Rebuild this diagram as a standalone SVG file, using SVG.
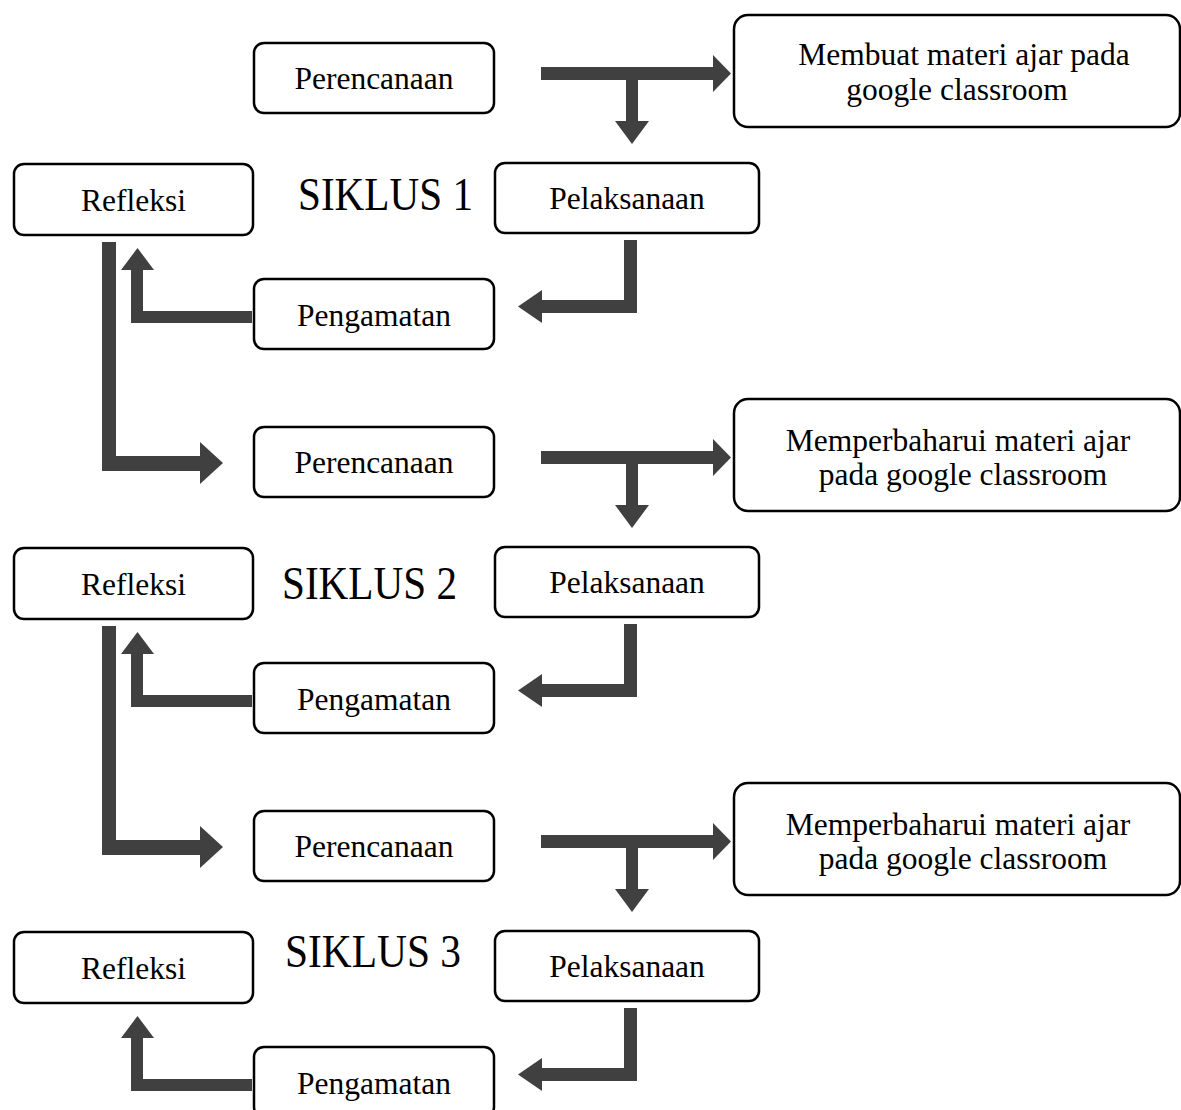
<svg xmlns="http://www.w3.org/2000/svg" width="1181" height="1110" viewBox="0 0 1181 1110">
<style>
.box{fill:#fff;stroke:#000;stroke-width:2.5}
.t{font-family:"Liberation Serif","Times New Roman",serif;font-size:31.5px;fill:#000;text-anchor:middle}
.s{font-family:"Liberation Serif","Times New Roman",serif;font-size:46px;fill:#000}
.a{fill:#404040;stroke:none}
</style>
<rect width="1181" height="1110" fill="#fff"/>
<g id="connectors">
  <!-- cycle 1 -->
  <path class="a" d="M541,67 H713 V80 H541 Z"/>
  <polygon class="a" points="713,55 731,73.5 713,92"/>
  <path class="a" d="M626,80 H638 V121 H626 Z"/>
  <polygon class="a" points="615,121 649,121 632,144"/>
  <path class="a" d="M624,240 H637 V313 H542 V300 H624 Z"/>
  <polygon class="a" points="542,290 542,323 518,306.5"/>
  <path class="a" d="M252,311 V323 H131 V270 H143 V311 Z"/>
  <polygon class="a" points="121,270 154,270 137.5,248"/>
  <path class="a" d="M102,242 H116 V456 H200 V471 H102 Z"/>
  <polygon class="a" points="200,442 223,463 200,484"/>
  <!-- cycle 2 -->
  <path class="a" d="M541,451 H713 V464 H541 Z"/>
  <polygon class="a" points="713,439 731,457.5 713,476"/>
  <path class="a" d="M626,464 H638 V505 H626 Z"/>
  <polygon class="a" points="615,505 649,505 632,528"/>
  <path class="a" d="M624,624 H637 V697 H542 V684 H624 Z"/>
  <polygon class="a" points="542,674 542,707 518,690.5"/>
  <path class="a" d="M252,695 V707 H131 V654 H143 V695 Z"/>
  <polygon class="a" points="121,654 154,654 137.5,632"/>
  <path class="a" d="M102,626 H116 V840 H200 V855 H102 Z"/>
  <polygon class="a" points="200,826 223,847 200,868"/>
  <!-- cycle 3 -->
  <path class="a" d="M541,835 H713 V848 H541 Z"/>
  <polygon class="a" points="713,823 731,841.5 713,860"/>
  <path class="a" d="M626,848 H638 V889 H626 Z"/>
  <polygon class="a" points="615,889 649,889 632,912"/>
  <path class="a" d="M624,1008 H637 V1081 H542 V1068 H624 Z"/>
  <polygon class="a" points="542,1058 542,1091 518,1074.5"/>
  <path class="a" d="M252,1079 V1091 H131 V1038 H143 V1079 Z"/>
  <polygon class="a" points="121,1038 154,1038 137.5,1016"/>
</g>
<!-- Cycle 1 -->
<g id="perencanaan1"><rect class="box" x="254" y="43" width="240" height="70" rx="10"/><text class="t" x="374" y="89">Perencanaan</text></g>
<g id="materi1"><rect class="box" x="734" y="15" width="446" height="112" rx="14"/><text class="t" x="964" y="65">Membuat materi ajar pada</text><text class="t" x="957" y="100">google classroom</text></g>
<g id="refleksi1"><rect class="box" x="14" y="164" width="239" height="71" rx="10"/><text class="t" x="133.5" y="210.5">Refleksi</text></g>
<g id="siklus1"><text class="s" x="298" y="210" textLength="175" lengthAdjust="spacingAndGlyphs">SIKLUS 1</text></g>
<g id="pelaksanaan1"><rect class="box" x="495" y="163" width="264" height="70" rx="10"/><text class="t" x="627" y="209">Pelaksanaan</text></g>
<g id="pengamatan1"><rect class="box" x="254" y="279" width="240" height="70" rx="10"/><text class="t" x="374" y="326">Pengamatan</text></g>
<!-- Cycle 2 -->
<g id="perencanaan2"><rect class="box" x="254" y="427" width="240" height="70" rx="10"/><text class="t" x="374" y="473">Perencanaan</text></g>
<g id="materi2"><rect class="box" x="734" y="399" width="446" height="112" rx="14"/><text class="t" x="958" y="451">Memperbaharui materi ajar</text><text class="t" x="963" y="485">pada google classroom</text></g>
<g id="refleksi2"><rect class="box" x="14" y="548" width="239" height="71" rx="10"/><text class="t" x="133.5" y="594.5">Refleksi</text></g>
<g id="siklus2"><text class="s" x="282" y="599" textLength="175" lengthAdjust="spacingAndGlyphs">SIKLUS 2</text></g>
<g id="pelaksanaan2"><rect class="box" x="495" y="547" width="264" height="70" rx="10"/><text class="t" x="627" y="593">Pelaksanaan</text></g>
<g id="pengamatan2"><rect class="box" x="254" y="663" width="240" height="70" rx="10"/><text class="t" x="374" y="710">Pengamatan</text></g>
<!-- Cycle 3 -->
<g id="perencanaan3"><rect class="box" x="254" y="811" width="240" height="70" rx="10"/><text class="t" x="374" y="857">Perencanaan</text></g>
<g id="materi3"><rect class="box" x="734" y="783" width="446" height="112" rx="14"/><text class="t" x="958" y="835">Memperbaharui materi ajar</text><text class="t" x="963" y="869">pada google classroom</text></g>
<g id="refleksi3"><rect class="box" x="14" y="932" width="239" height="71" rx="10"/><text class="t" x="133.5" y="978.5">Refleksi</text></g>
<g id="siklus3"><text class="s" x="285" y="967" textLength="176" lengthAdjust="spacingAndGlyphs">SIKLUS 3</text></g>
<g id="pelaksanaan3"><rect class="box" x="495" y="931" width="264" height="70" rx="10"/><text class="t" x="627" y="977">Pelaksanaan</text></g>
<g id="pengamatan3"><rect class="box" x="254" y="1047" width="240" height="70" rx="10"/><text class="t" x="374" y="1094">Pengamatan</text></g>
</svg>
